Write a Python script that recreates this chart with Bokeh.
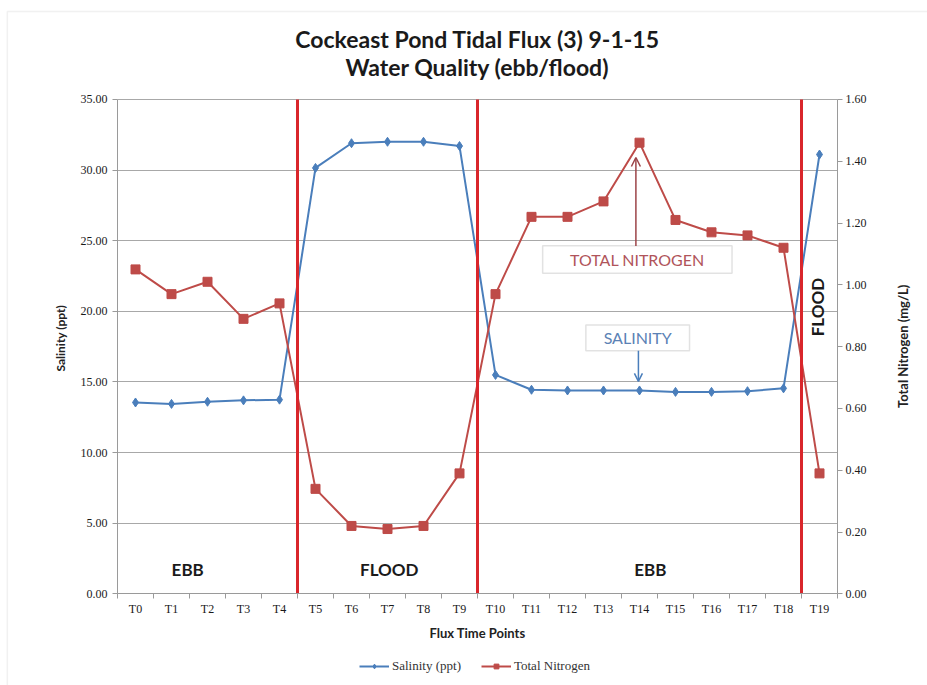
import math
from bokeh.plotting import figure
from bokeh.models import (Range1d, LinearAxis, FixedTicker, SingleIntervalTicker,
                          NumeralTickFormatter, Label, Legend, LegendItem,
                          Arrow, OpenHead, BoxAnnotation, ColumnDataSource)
from bokeh.embed import file_html
from bokeh.resources import INLINE

# Flux time points and measured water quality
time_points = ["T0", "T1", "T2", "T3", "T4", "T5", "T6", "T7", "T8", "T9",
               "T10", "T11", "T12", "T13", "T14", "T15", "T16", "T17", "T18", "T19"]
salinity_ppt = [13.55, 13.45, 13.6, 13.7, 13.75, 30.15, 31.9, 32.0, 32.0, 31.7,
                15.5, 14.45, 14.4, 14.4, 14.4, 14.3, 14.3, 14.35, 14.55, 31.1]
total_nitrogen = [1.05, 0.97, 1.01, 0.89, 0.94, 0.34, 0.22, 0.21, 0.22, 0.39,
                  0.97, 1.22, 1.22, 1.27, 1.46, 1.21, 1.17, 1.16, 1.12, 0.39]
# tide turns after these time points
tide_turns_after = ["T4", "T9", "T18"]

# axis extents
SAL_MAX = 35.0
TN_MAX = 1.6

SAL_COLOR = "#4A7EBB"
TN_COLOR = "#BE4B48"
TURN_COLOR = "#D9262B"
SANS = "Lato"
SERIF = "Liberation Serif"

# The frame fills the whole page; axes are pinned to the data extents so
# titles and the legend can sit around the plot area.
X_FIRST, X_LAST = -0.5, len(time_points) - 0.5
X_LOW, X_HIGH = -3.75, 22.0
Y_LOW, Y_HIGH = -6.48, 42.0
scale = TN_MAX / SAL_MAX

idx = list(range(len(time_points)))
src = ColumnDataSource(dict(x=idx, sal=salinity_ppt, tn=total_nitrogen))

p = figure(width=927, height=685, x_range=Range1d(X_LOW, X_HIGH),
           y_range=Range1d(Y_LOW, Y_HIGH), output_backend="svg",
           toolbar_location=None, min_border_left=0, min_border_right=0,
           min_border_top=0, min_border_bottom=0)
p.title.visible = False
p.extra_y_ranges = {"tn": Range1d(Y_LOW * scale, Y_HIGH * scale)}
p.outline_line_color = None
p.background_fill_color = "white"
p.border_fill_color = "white"

# chart area border (left and top edges fall inside the page)
p.add_layout(BoxAnnotation(left=-3.56, right=X_HIGH + 2, bottom=Y_LOW - 5,
                           top=41.23, fill_alpha=0, line_color="#cfcfcf",
                           line_width=1.5))

# grid
p.xgrid.grid_line_color = None
p.ygrid.grid_line_color = "#a8a8a8"
p.ygrid.grid_line_width = 1
p.ygrid.bounds = (0, SAL_MAX)
try:
    p.ygrid.cross_bounds = (X_FIRST, X_LAST)
except AttributeError:
    p.ygrid.visible = False
    grid_vals = [v * 5.0 for v in range(int(SAL_MAX // 5) + 1)]
    p.segment(x0=[X_FIRST] * len(grid_vals), y0=grid_vals,
              x1=[X_LAST] * len(grid_vals), y1=grid_vals,
              line_color="#a8a8a8", line_width=1)

# left axis
la = p.yaxis[0]
la.fixed_location = X_FIRST
la.ticker = SingleIntervalTicker(interval=5)
la.formatter = NumeralTickFormatter(format="0.00")
la.bounds = (0, SAL_MAX)

# right axis
ra = LinearAxis(y_range_name="tn", ticker=SingleIntervalTicker(interval=0.2),
                formatter=NumeralTickFormatter(format="0.00"),
                bounds=(0, TN_MAX), fixed_location=X_LAST)
p.add_layout(ra, "right")

for ax in (la, ra):
    ax.axis_line_color = "#9a9a9a"
    ax.major_tick_line_color = "#9a9a9a"
    ax.major_tick_out = 5
    ax.major_tick_in = 0
    ax.minor_tick_line_color = None
    ax.major_label_text_font = SERIF
    ax.major_label_text_font_size = "12px"
    ax.major_label_text_color = "#1a1a1a"
la.major_label_standoff = 5
ra.major_label_standoff = 3

# axis titles, both reading bottom to top
p.add_layout(Label(x=-2.08, y=18.1, text="Salinity (ppt)", angle=math.pi / 2,
                   text_align="center", text_baseline="middle", text_font=SANS,
                   text_font_size="12px", text_font_style="bold",
                   text_color="#222222"))
p.add_layout(Label(x=21.33, y=17.52, text="Total Nitrogen (mg/L)",
                   angle=math.pi / 2, text_align="center",
                   text_baseline="middle", text_font=SANS,
                   text_font_size="13px", text_font_style="bold",
                   text_color="#222222"))

# bottom axis at zero: labels at category centres, ticks at category boundaries
xa = p.xaxis[0]
xa.fixed_location = 0
xa.bounds = (X_FIRST, X_LAST)
xa.ticker = FixedTicker(ticks=idx, minor_ticks=[i - 0.5 for i in range(len(idx) + 1)])
xa.major_label_overrides = {i: t for i, t in enumerate(time_points)}
xa.major_tick_line_color = None
xa.major_tick_out = 0
xa.minor_tick_line_color = "#9a9a9a"
xa.minor_tick_out = 5
xa.minor_tick_in = 0
xa.axis_line_color = "#9a9a9a"
xa.major_label_text_font = SERIF
xa.major_label_text_font_size = "12px"
xa.major_label_text_color = "#1a1a1a"
xa.major_label_standoff = 3
xa.axis_label = "Flux Time Points"
xa.axis_label_text_font = SANS
xa.axis_label_text_font_size = "13px"
xa.axis_label_text_font_style = "bold"
xa.axis_label_text_color = "#222222"
xa.axis_label_standoff = 6

# series
sal_line = p.line("x", "sal", source=src, color=SAL_COLOR, line_width=2)
sal_pts = p.scatter("x", "sal", source=src, marker="diamond", size=9,
                    color=SAL_COLOR)
tn_line = p.line("x", "tn", source=src, color=TN_COLOR, line_width=2,
                 y_range_name="tn")
tn_pts = p.scatter("x", "tn", source=src, marker="square", size=9,
                   color=TN_COLOR, y_range_name="tn")

# tide turn markers, full height of the salinity axis
turns = [time_points.index(t) + 0.5 for t in tide_turns_after]
p.segment(x0=turns, y0=[0] * len(turns), x1=turns, y1=[SAL_MAX] * len(turns),
          line_color=TURN_COLOR, line_width=3)

# phase labels
for txt, x in (("EBB", 1.45), ("FLOOD", 7.05), ("EBB", 14.3)):
    p.add_layout(Label(x=x, y=1.7, text=txt, text_align="center",
                       text_baseline="middle", text_font=SANS,
                       text_font_size="17px", text_font_style="bold",
                       text_color="#1a1a1a"))
p.add_layout(Label(x=18.95, y=20.3, text="FLOOD", angle=math.pi / 2,
                   text_align="center", text_baseline="middle", text_font=SANS,
                   text_font_size="17px", text_font_style="bold",
                   text_color="#1a1a1a"))

# callouts
p.add_layout(BoxAnnotation(left=11.31, right=16.57, bottom=22.69, top=24.65,
                           fill_color="white", fill_alpha=1.0,
                           line_color="#a0a0a0", line_width=1.5))
p.add_layout(Label(x=13.94, y=23.67, text="TOTAL NITROGEN", text_align="center",
                   text_baseline="middle", text_font=SANS, text_font_size="16px",
                   text_color="#B0545A"))
p.add_layout(Arrow(end=OpenHead(size=9, line_color="#9C4448", line_width=1.5),
                   x_start=13.9, y_start=1.126, x_end=13.9, y_end=1.412,
                   line_color="#9C4448", line_width=1.5, y_range_name="tn"))

p.add_layout(BoxAnnotation(left=12.51, right=15.39, bottom=17.22, top=19.04,
                           fill_color="white", fill_alpha=1.0,
                           line_color="#a0a0a0", line_width=1.5))
p.add_layout(Label(x=13.95, y=18.13, text="SALINITY", text_align="center",
                   text_baseline="middle", text_font=SANS, text_font_size="16px",
                   text_color="#5B82B5"))
p.add_layout(Arrow(end=OpenHead(size=8, line_color=SAL_COLOR, line_width=1.5),
                   x_start=13.97, y_start=17.22, x_end=13.97, y_end=15.05,
                   line_color=SAL_COLOR, line_width=1.5))

# title
p.add_layout(Label(x=9.5, y=39.31, text="Cockeast Pond Tidal Flux (3) 9-1-15",
                   text_align="center", text_baseline="middle", text_font=SANS,
                   text_font_size="23px", text_font_style="bold",
                   text_color="#1a1a1a"))
p.add_layout(Label(x=9.5, y=37.26, text="Water Quality (ebb/flood)",
                   text_align="center", text_baseline="middle", text_font=SANS,
                   text_font_size="23px", text_font_style="bold",
                   text_color="#1a1a1a"))

# legend below the axis title
legend = Legend(items=[LegendItem(label="Salinity (ppt)", renderers=[sal_line, sal_pts]),
                       LegendItem(label="Total Nitrogen", renderers=[tn_line, tn_pts])],
                orientation="horizontal", location=(359, 11),
                label_text_font=SERIF, label_text_font_size="13px",
                label_text_color="#333333", glyph_width=30, glyph_height=12,
                label_height=12, label_standoff=3, spacing=20, padding=4,
                margin=0, border_line_color=None, background_fill_alpha=0)
p.add_layout(legend)

open("out.html", "w").write(file_html(p, INLINE))
